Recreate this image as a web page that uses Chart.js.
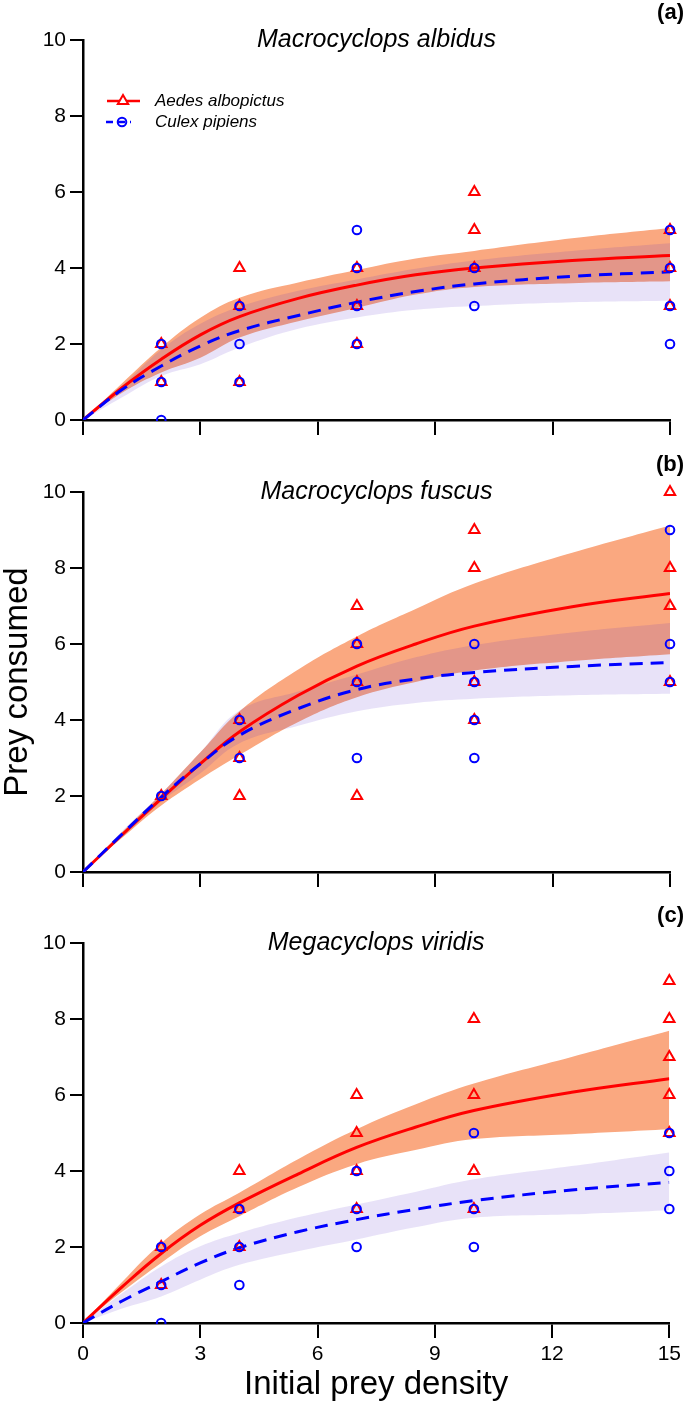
<!DOCTYPE html>
<html>
<head>
<meta charset="utf-8">
<script src="https://cdn.jsdelivr.net/npm/chart.js@4.4.1/dist/chart.umd.min.js"></script>
<style>
  html, body { margin: 0; padding: 0; background: #fff; }
  #wrap { position: relative; width: 685px; height: 1405px; }
  #wrap canvas { position: absolute; left: 0; }
</style>
</head>
<body>
<div id="wrap">
  <canvas id="panelA" width="685" height="440" style="top:0px"></canvas>
  <canvas id="panelB" width="685" height="455" style="top:440px"></canvas>
  <canvas id="panelC" width="685" height="510" style="top:895px"></canvas>
</div>
<script>
const fitX = [0, 1, 2, 3, 4, 5.5, 7, 8.5, 10, 12.5, 15];
// initial prey densities used in the trials
const densities = [2, 4, 7, 10, 15];

// (a) Macrocyclops albidus
const albAedesFit   = [0, 0.85, 1.6, 2.24, 2.72, 3.2, 3.55, 3.82, 4.0, 4.2, 4.33];
const albAedesUpper = [0, 0.97, 1.91, 2.69, 3.22, 3.62, 3.95, 4.25, 4.45, 4.78, 5.05];
const albAedesLower = [0, 0.72, 1.25, 1.64, 2.17, 2.6, 2.95, 3.3, 3.5, 3.6, 3.65];
const albCulexFit   = [0, 0.8, 1.42, 1.95, 2.35, 2.75, 3.1, 3.38, 3.58, 3.78, 3.9];
const albCulexUpper = [0, 0.9, 1.85, 2.53, 2.98, 3.4, 3.7, 3.98, 4.2, 4.45, 4.65];
const albCulexLower = [0, 0.6, 1.16, 1.47, 1.91, 2.4, 2.7, 2.9, 3.0, 3.1, 3.14];
const albAedesObs = [[2, 1], [4, 3, 1], [4, 3, 2], [6, 5, 4], [5, 4, 3]];
const albCulexObs = [[2, 1, 0], [3, 2, 1], [5, 4, 3, 2], [4, 3], [5, 4, 3, 2]];

// (b) Macrocyclops fuscus
const fusAedesFit   = [0, 0.98, 1.93, 2.85, 3.69, 4.65, 5.42, 6.0, 6.47, 6.98, 7.33];
const fusAedesUpper = [0, 1.05, 2.06, 3.15, 4.23, 5.33, 6.2, 6.92, 7.59, 8.4, 9.12];
const fusAedesLower = [0, 0.9, 1.75, 2.45, 3.08, 3.95, 4.6, 5.0, 5.3, 5.55, 5.73];
const fusCulexFit   = [0, 1.0, 1.97, 2.85, 3.6, 4.3, 4.8, 5.08, 5.25, 5.41, 5.51];
const fusCulexUpper = [0, 1.08, 2.06, 3.15, 4.25, 4.75, 5.2, 5.65, 5.97, 6.3, 6.55];
const fusCulexLower = [0, 0.92, 1.85, 2.6, 3.39, 3.85, 4.23, 4.45, 4.56, 4.65, 4.69];
const fusAedesObs = [[2], [4, 3, 2], [7, 6, 5, 2], [9, 8, 5, 4], [10, 8, 7, 5]];
const fusCulexObs = [[2], [4, 3], [6, 5, 3], [6, 5, 4, 3], [9, 6, 5]];

// (c) Megacyclops viridis
const virAedesFit   = [0, 0.95, 1.83, 2.57, 3.16, 3.92, 4.62, 5.15, 5.59, 6.07, 6.43];
const virAedesUpper = [0, 1.08, 2.1, 2.86, 3.43, 4.31, 5.1, 5.75, 6.3, 7.0, 7.69];
const virAedesLower = [0, 0.82, 1.58, 2.28, 2.81, 3.57, 4.18, 4.55, 4.84, 4.97, 5.1];
const virCulexFit   = [0, 0.58, 1.09, 1.58, 1.98, 2.4, 2.72, 2.99, 3.22, 3.5, 3.7];
const virCulexUpper = [0, 0.78, 1.49, 2.02, 2.37, 2.78, 3.12, 3.45, 3.78, 4.13, 4.49];
const virCulexLower = [0, 0.38, 0.7, 1.14, 1.53, 1.89, 2.2, 2.52, 2.77, 2.86, 2.97];
const virAedesObs = [[2, 1], [4, 3, 2], [6, 5, 4, 3], [8, 6, 4, 3], [9, 8, 7, 6, 5]];
const virCulexObs = [[2, 1, 0], [3, 2, 1], [4, 3, 2], [5, 3, 2], [5, 4, 3]];

const FONT = '"Liberation Sans", Arial, sans-serif';
const RED = '#ff0000';
const BLUE = '#0000ff';
const ORANGE_BAND = 'rgb(250, 168, 128)';
const LAVENDER_BAND = 'rgba(72, 25, 199, 0.126)';
const SMOOTH = 0.4;

Chart.defaults.font.family = FONT;
Chart.defaults.color = '#000';

function curve(ys) {
    return fitX.map((x, i) => ({ x: x, y: ys[i] }));
}

function points(obs) {
    const out = [];
    densities.forEach((d, i) => obs[i].forEach(v => out.push({ x: d, y: v })));
    return out;
}

// titles, panel letters and the legend
const panelText = {
    id: 'panelText',
    afterDraw(chart, args, opts) {
        const ctx = chart.ctx;
        const area = chart.chartArea;
        ctx.save();
        ctx.fillStyle = '#000';
        ctx.textBaseline = 'middle';

        ctx.font = 'italic 25px ' + FONT;
        ctx.textAlign = 'center';
        ctx.fillText(opts.title, (area.left + area.right) / 2, area.top);

        ctx.font = 'bold 22px ' + FONT;
        ctx.textAlign = 'right';
        ctx.fillText(opts.tag, 684, area.top - 27);

        if (opts.legend) {
            // Aedes albopictus: solid line + triangle
            ctx.strokeStyle = RED;
            ctx.lineWidth = 2.5;
            ctx.beginPath();
            ctx.moveTo(107, 101);
            ctx.lineTo(140, 101);
            ctx.stroke();
            ctx.lineWidth = 2;
            ctx.beginPath();
            ctx.moveTo(123, 95);
            ctx.lineTo(128.2, 104);
            ctx.lineTo(117.8, 104);
            ctx.closePath();
            ctx.fillStyle = '#fff';
            ctx.fill();
            ctx.stroke();

            // Culex pipiens: dashed line + circle
            ctx.strokeStyle = BLUE;
            ctx.lineWidth = 2.5;
            ctx.setLineDash([7, 5]);
            ctx.beginPath();
            ctx.moveTo(106, 122);
            ctx.lineTo(131, 122);
            ctx.stroke();
            ctx.setLineDash([]);
            ctx.lineWidth = 2;
            ctx.beginPath();
            ctx.arc(122, 122, 4.3, 0, Math.PI * 2);
            ctx.stroke();

            ctx.fillStyle = '#000';
            ctx.font = 'italic 17px ' + FONT;
            ctx.textAlign = 'left';
            ctx.fillText('Aedes albopictus', 155, 101);
            ctx.fillText('Culex pipiens', 155, 122);
        }
        ctx.restore();
    }
};

function makePanel(id, cfg) {
    const bandLine = { showLine: true, borderWidth: 0, borderColor: 'rgba(0,0,0,0)', pointRadius: 0, tension: SMOOTH };
    return new Chart(document.getElementById(id), {
        type: 'line',
        data: {
            datasets: [
                {
                    label: 'Culex pipiens', data: points(cfg.culexObs), showLine: false,
                    pointStyle: 'circle', pointRadius: 4.3, pointBorderWidth: 2,
                    pointBorderColor: BLUE, pointBackgroundColor: 'rgba(0,0,0,0)',
                    clip: { left: 8, top: 8, right: 8, bottom: 1 }, order: 0
                },
                {
                    label: 'Aedes albopictus', data: points(cfg.aedesObs), showLine: false,
                    pointStyle: 'triangle', pointRadius: 6, pointBorderWidth: 2,
                    pointBorderColor: RED, pointBackgroundColor: 'rgba(0,0,0,0)',
                    clip: { left: 8, top: 8, right: 8, bottom: 1 }, order: 1
                },
                {
                    label: 'Culex fit', data: curve(cfg.culexFit), borderColor: BLUE, borderWidth: 3,
                    borderDash: [13, 8], pointRadius: 0, fill: false, tension: SMOOTH, order: 2
                },
                {
                    label: 'Aedes fit', data: curve(cfg.aedesFit), borderColor: RED, borderWidth: 3,
                    pointRadius: 0, fill: false, tension: SMOOTH, order: 3
                },
                Object.assign({ label: 'Culex CI upper', data: curve(cfg.culexUpper), fill: '+1', backgroundColor: LAVENDER_BAND, order: 4 }, bandLine),
                Object.assign({ label: 'Culex CI lower', data: curve(cfg.culexLower), fill: false, order: 5 }, bandLine),
                Object.assign({ label: 'Aedes CI upper', data: curve(cfg.aedesUpper), fill: '+1', backgroundColor: ORANGE_BAND, order: 6 }, bandLine),
                Object.assign({ label: 'Aedes CI lower', data: curve(cfg.aedesLower), fill: false, order: 7 }, bandLine)
            ]
        },
        options: {
            responsive: false,
            animation: false,
            events: [],
            layout: { padding: { top: cfg.top, right: 15, left: 0, bottom: 0 } },
            plugins: {
                legend: { display: false },
                tooltip: { enabled: false },
                panelText: { title: cfg.title, tag: cfg.tag, legend: cfg.legend }
            },
            scales: {
                x: {
                    type: 'linear', min: 0, max: 15,
                    ticks: { stepSize: 3, display: cfg.xLabels, font: { size: 21 }, padding: 4, maxRotation: 0 },
                    grid: { drawOnChartArea: false, tickLength: 15, color: '#000', lineWidth: 2 },
                    border: { color: '#000', width: 2.5 },
                    title: { display: cfg.xLabels, text: 'Initial prey density', font: { size: 33 }, padding: 0 },
                    afterFit: s => { s.height = cfg.xHeight; }
                },
                y: {
                    min: 0, max: 10,
                    ticks: { stepSize: 2, font: { size: 21 }, padding: 4 },
                    grid: { drawOnChartArea: false, tickLength: 13, color: '#000', lineWidth: 2 },
                    border: { color: '#000', width: 2.5 },
                    title: { display: cfg.yTitle, text: 'Prey consumed', font: { size: 33 }, padding: { top: -2, bottom: 0 } },
                    afterFit: s => { s.width = 83; }
                }
            }
        },
        plugins: [panelText]
    });
}

makePanel('panelA', {
    title: 'Macrocyclops albidus', tag: '(a)', legend: true, xLabels: false, yTitle: false, top: 40, xHeight: 20,
    aedesFit: albAedesFit, aedesUpper: albAedesUpper, aedesLower: albAedesLower, aedesObs: albAedesObs,
    culexFit: albCulexFit, culexUpper: albCulexUpper, culexLower: albCulexLower, culexObs: albCulexObs
});

makePanel('panelB', {
    title: 'Macrocyclops fuscus', tag: '(b)', legend: false, xLabels: false, yTitle: true, top: 52, xHeight: 23,
    aedesFit: fusAedesFit, aedesUpper: fusAedesUpper, aedesLower: fusAedesLower, aedesObs: fusAedesObs,
    culexFit: fusCulexFit, culexUpper: fusCulexUpper, culexLower: fusCulexLower, culexObs: fusCulexObs
});

makePanel('panelC', {
    title: 'Megacyclops viridis', tag: '(c)', legend: false, xLabels: true, yTitle: false, top: 48, xHeight: 82,
    aedesFit: virAedesFit, aedesUpper: virAedesUpper, aedesLower: virAedesLower, aedesObs: virAedesObs,
    culexFit: virCulexFit, culexUpper: virCulexUpper, culexLower: virCulexLower, culexObs: virCulexObs
});
</script>
</body>
</html>
